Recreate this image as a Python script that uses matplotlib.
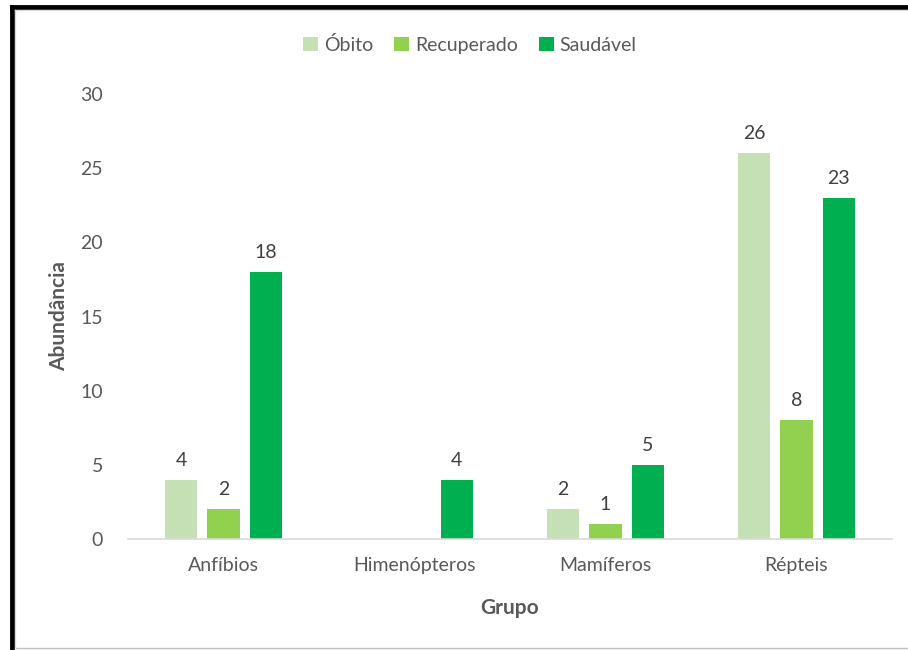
import matplotlib
matplotlib.use("Agg")
import matplotlib.pyplot as plt
from matplotlib.lines import Line2D
import numpy as np

categories = ["Anfíbios", "Himenópteros", "Mamíferos", "Répteis"]
series_names = ["Óbito", "Recuperado", "Saudável"]
obito = [4, 0, 2, 26]
recuperado = [2, 0, 1, 8]
saudavel = [18, 4, 5, 23]
colors = ["#C5E0B4", "#92D050", "#00B050"]

plt.rcParams['font.family'] = ['Lato', 'DejaVu Sans']
txt = "#595959"

W, H = 908, 650
fig = plt.figure(figsize=(W/100, H/100), dpi=100)
ax = fig.add_axes([128/W, 1-539/H, (892-128)/W, (539-94)/H])

x = np.arange(len(categories))
width = 0.17
step = 0.222
all_vals = [obito, recuperado, saudavel]
for i, (vals, name, c) in enumerate(zip(all_vals, series_names, colors)):
    pos = x + (i-1)*step
    ax.bar(pos, vals, width, color=c, label=name, zorder=2)
    for p, v in zip(pos, vals):
        if v > 0:
            ax.text(p, v + 0.75, str(v), ha='center', va='bottom', fontsize=14, color="#404040")

ax.set_xlim(-0.5, 3.5)
ax.set_ylim(0, 30)
ax.set_yticks([0, 5, 10, 15, 20, 25, 30])
ax.set_xticks(x)
ax.set_xticklabels(categories)
ax.tick_params(axis='both', length=0, labelsize=14, colors=txt)
ax.tick_params(axis='y', pad=18)
ax.tick_params(axis='x', pad=13)
for s in ['top', 'right', 'left']:
    ax.spines[s].set_visible(False)
ax.spines['bottom'].set_color("#D9D9D9")
ax.spines['bottom'].set_linewidth(1.2)

ax.set_ylabel("Abundância", fontsize=15, fontweight='bold', color=txt, labelpad=8)
ax.set_xlabel("Grupo", fontsize=15, fontweight='bold', color=txt, labelpad=17)

fig.legend(loc='center', bbox_to_anchor=(470/W, 1-45/H), ncol=3, frameon=False,
           fontsize=14, handlelength=0.75, handleheight=0.75, handletextpad=0.3,
           columnspacing=1.1, labelcolor=txt)

# frame
fig.add_artist(Line2D([12/W, 12/W], [1-7/H, 0], color='black', lw=3.5, transform=fig.transFigure))
fig.add_artist(Line2D([12/W, 1], [1-7/H, 1-7/H], color='black', lw=3.5, transform=fig.transFigure))
fig.add_artist(Line2D([15/W, 1], [1-648/H, 1-648/H], color='#BFBFBF', lw=1, transform=fig.transFigure))
fig.add_artist(Line2D([15/W, 1], [1-10/H, 1-10/H], color='#D9D9D9', lw=1, transform=fig.transFigure))
fig.add_artist(Line2D([15/W, 15/W], [1-10/H, 1-648/H], color='#D9D9D9', lw=1, transform=fig.transFigure))

fig.savefig("out.png", dpi=100)
